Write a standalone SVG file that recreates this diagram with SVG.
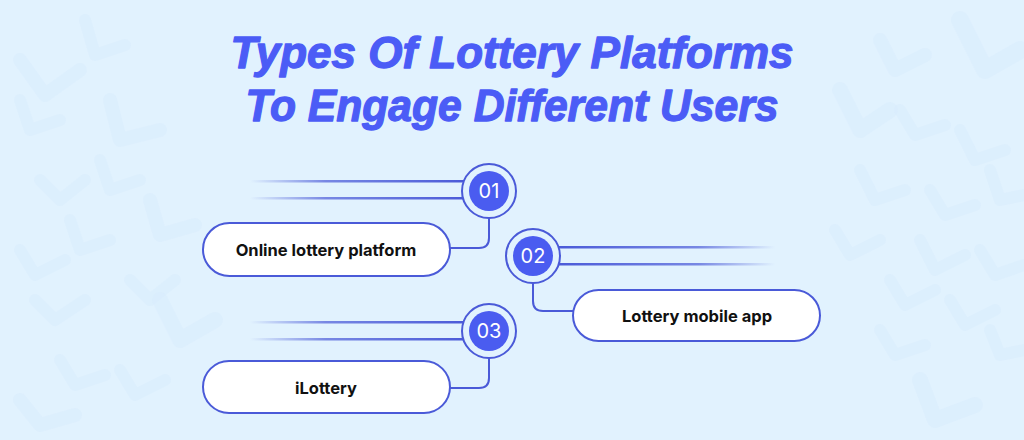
<svg xmlns="http://www.w3.org/2000/svg" width="1024" height="440" viewBox="0 0 1024 440">
<defs>
<linearGradient id="fadeL" x1="0" y1="0" x2="1" y2="0">
<stop offset="0" stop-color="#4a5ad8" stop-opacity="0"/>
<stop offset="0.35" stop-color="#4a5ad8" stop-opacity="0.7"/>
<stop offset="1" stop-color="#4a5ad8" stop-opacity="1"/>
</linearGradient>
<linearGradient id="fadeR" x1="0" y1="0" x2="1" y2="0">
<stop offset="0" stop-color="#4a5ad8" stop-opacity="1"/>
<stop offset="0.65" stop-color="#4a5ad8" stop-opacity="0.7"/>
<stop offset="1" stop-color="#4a5ad8" stop-opacity="0"/>
</linearGradient>
</defs>
<style>
.bg{fill:#e1f2fe}
.chev{fill:none;stroke:#d6ebfc;stroke-linecap:round;stroke-linejoin:round;opacity:0.45}
.title{font-family:"Liberation Sans Narrow","Liberation Sans",sans-serif;font-weight:700;font-style:italic;font-size:45px;fill:#4b5cf6;stroke:#4b5cf6;stroke-width:1.3;stroke-linejoin:round}
.pill{fill:#ffffff;stroke:#4a5ad8;stroke-width:2}
.ring{fill:#e1f2fe;stroke:#4a5ad8;stroke-width:2}
.dot{fill:#4a5cf0}
.num{font-family:Inter,"Noto Sans",sans-serif;font-size:20px;fill:#ffffff;text-anchor:middle}
.lbl{font-family:Inter,"Noto Sans",sans-serif;font-weight:700;font-size:16.5px;fill:#111111;text-anchor:middle}
.conn{fill:none;stroke:#4a5ad8;stroke-width:2}
</style>
<rect class="bg" x="0" y="0" width="1024" height="440"/>
<g id="pattern">
<path class="chev" stroke-width="14" d="M20,60 L45,95 L80,70"/>
<path class="chev" stroke-width="12" d="M85,20 L95,55 L125,45"/>
<path class="chev" stroke-width="12" d="M20,100 L30,130 L60,120"/>
<path class="chev" stroke-width="14" d="M110,100 L120,140 L160,130"/>
<path class="chev" stroke-width="12" d="M40,180 L60,200 L85,180"/>
<path class="chev" stroke-width="12" d="M100,160 L110,190 L140,180"/>
<path class="chev" stroke-width="12" d="M20,250 L35,275 L65,260"/>
<path class="chev" stroke-width="12" d="M70,220 L80,250 L110,240"/>
<path class="chev" stroke-width="14" d="M150,200 L160,235 L195,225"/>
<path class="chev" stroke-width="12" d="M35,300 L55,320 L85,300"/>
<path class="chev" stroke-width="12" d="M130,280 L150,300 L175,280"/>
<path class="chev" stroke-width="16" d="M160,300 L180,340 L215,320"/>
<path class="chev" stroke-width="12" d="M60,360 L75,385 L105,375"/>
<path class="chev" stroke-width="12" d="M120,370 L135,395 L165,380"/>
<path class="chev" stroke-width="14" d="M20,400 L40,425 L75,415"/>
<path class="chev" stroke-width="16" d="M840,90 L860,130 L890,110"/>
<path class="chev" stroke-width="14" d="M880,40 L895,70 L925,55"/>
<path class="chev" stroke-width="18" d="M960,20 L985,70 L1020,50"/>
<path class="chev" stroke-width="12" d="M900,110 L915,135 L945,125"/>
<path class="chev" stroke-width="12" d="M960,130 L975,160 L1005,150"/>
<path class="chev" stroke-width="12" d="M860,170 L875,200 L905,190"/>
<path class="chev" stroke-width="12" d="M930,190 L945,215 L975,205"/>
<path class="chev" stroke-width="12" d="M990,170 L1000,200 L1024,195"/>
<path class="chev" stroke-width="12" d="M835,230 L850,255 L880,240"/>
<path class="chev" stroke-width="12" d="M920,240 L935,270 L965,255"/>
<path class="chev" stroke-width="12" d="M980,250 L995,275 L1024,265"/>
<path class="chev" stroke-width="12" d="M890,280 L905,305 L935,290"/>
<path class="chev" stroke-width="12" d="M950,300 L965,325 L995,310"/>
<path class="chev" stroke-width="12" d="M880,330 L895,355 L925,345"/>
<path class="chev" stroke-width="12" d="M990,330 L1000,355 L1024,350"/>
<path class="chev" stroke-width="16" d="M920,380 L935,420 L975,405"/>
</g>
<g id="title">
<text class="title" x="512" y="68" text-anchor="middle" textLength="563" lengthAdjust="spacingAndGlyphs">Types Of Lottery Platforms</text>
<text class="title" x="512" y="121" text-anchor="middle" textLength="533" lengthAdjust="spacingAndGlyphs">To Engage Different Users</text>
</g>
<g id="connectors">
<rect x="250" y="180" width="216" height="2.5" fill="url(#fadeL)"/>
<rect x="250" y="197" width="216" height="2.5" fill="url(#fadeL)"/>
<path class="conn" d="M489,218 V238 Q489,248 479,248 H450"/>
<rect x="556" y="246" width="219" height="2.5" fill="url(#fadeR)"/>
<rect x="556" y="263" width="219" height="2.5" fill="url(#fadeR)"/>
<path class="conn" d="M533,283 V301 Q533,311 543,311 H573"/>
<rect x="250" y="321" width="216" height="2.5" fill="url(#fadeL)"/>
<rect x="250" y="338" width="216" height="2.5" fill="url(#fadeL)"/>
<path class="conn" d="M489,358 V378 Q489,388 479,388 H450"/>
</g>
<g id="step01">
<circle class="ring" cx="489" cy="191" r="27"/>
<circle class="dot" cx="489" cy="191" r="20"/>
<text class="num" x="489" y="198">01</text>
</g>
<g id="node-online">
<rect class="pill" x="203" y="223" width="247" height="53" rx="26.5"/>
<text class="lbl" x="326" y="256">Online lottery platform</text>
</g>
<g id="step02">
<circle class="ring" cx="533" cy="256" r="27"/>
<circle class="dot" cx="533" cy="256" r="20"/>
<text class="num" x="533" y="263">02</text>
</g>
<g id="node-mobile">
<rect class="pill" x="573" y="290" width="247" height="51" rx="25.5"/>
<text class="lbl" x="697" y="322">Lottery mobile app</text>
</g>
<g id="step03">
<circle class="ring" cx="489" cy="331" r="27"/>
<circle class="dot" cx="489" cy="331" r="20"/>
<text class="num" x="489" y="338">03</text>
</g>
<g id="node-ilottery">
<rect class="pill" x="203" y="361" width="247" height="52" rx="26"/>
<text class="lbl" x="326" y="394">iLottery</text>
</g>
</svg>
